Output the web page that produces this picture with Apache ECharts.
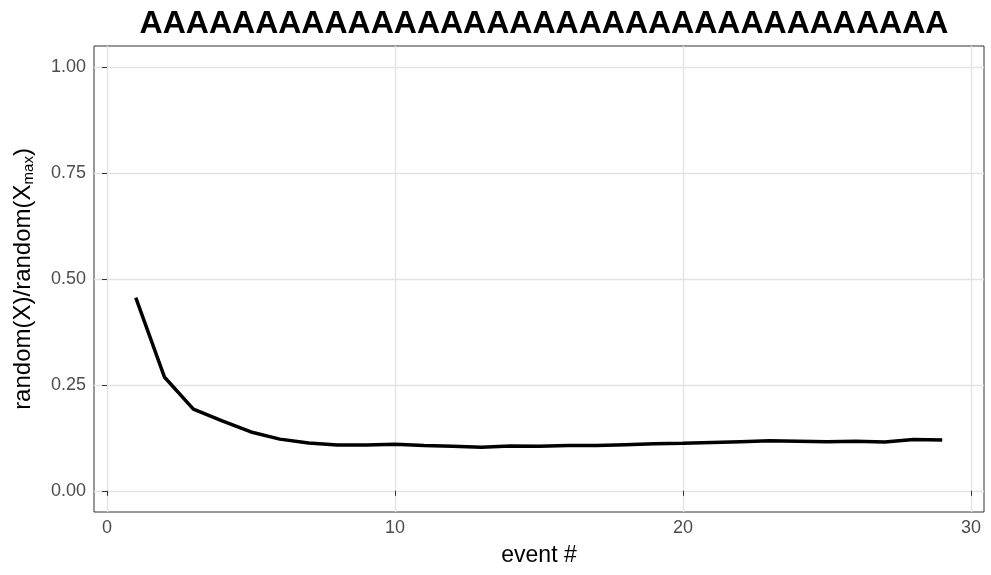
<!DOCTYPE html>
<html lang="en">
<head>
    <meta charset="UTF-8">
    <title>chart</title>
    <script src="https://cdn.jsdelivr.net/npm/echarts@6/dist/echarts.min.js"></script>
    <style>body{margin:0}</style>
</head>
<body>
<div id="main" style="width:991px;height:575px;"></div>
<script>
    var events = [1,2,3,4,5,6,7,8,9,10,11,12,13,14,15,16,17,18,19,20,21,22,23,24,25,26,27,28,29];
    var ratio = [0.456,0.268,0.193,0.165,0.139,0.122,0.113,0.108,0.108,0.110,0.107,0.105,0.103,0.106,0.105,
                 0.107,0.107,0.109,0.111,0.112,0.114,0.116,0.118,0.117,0.116,0.117,0.115,0.121,0.120];
    var xTicks = [0,10,20,30];
    var yTicks = [0,0.25,0.5,0.75,1];

    var myChart = echarts.init(document.getElementById('main'));
    var font = 'Liberation Sans, Arial, sans-serif';
    var option = {
        animation: false,
        title: {
            text: 'AAAAAAAAAAAAAAAAAAAAAAAAAAAAAAAAAAA',
            left: 539, top: 3, textAlign: 'center',
            textStyle: {fontSize: 32, fontWeight: 'bold', color: '#000', fontFamily: font}
        },
        grid: {left: 94, right: 7, top: 46, bottom: 63, show: true, borderColor: '#333', borderWidth: 1},
        xAxis: {
            type: 'value', min: -0.45, max: 30.45,
            name: 'event #', nameLocation: 'middle', nameGap: 32,
            nameTextStyle: {fontSize: 23, color: '#000', fontFamily: font},
            axisLine: {show: false},
            axisTick: {show: true, inside: false, customValues: xTicks, length: 5, lineStyle: {color: '#333'}},
            axisLabel: {customValues: xTicks, fontSize: 18, color: '#4d4d4d', fontFamily: font, margin: 7},
            splitLine: {show: true, lineStyle: {color: '#e3e3e3', width: 1.4}}
        },
        yAxis: {
            type: 'value', min: -0.05, max: 1.05,
            name: '{a|random(X)/random(X}{s|max}{a|)}', nameLocation: 'middle', nameGap: 58, nameRotate: 90,
            nameTextStyle: {rich: {
                a: {fontSize: 24, color: '#000', fontFamily: font},
                s: {fontSize: 15, color: '#000', fontFamily: font, verticalAlign: 'bottom', padding: [10, 0, 0, 0]}
            }},
            axisLine: {show: false},
            axisTick: {show: true, inside: false, customValues: yTicks, length: 5, lineStyle: {color: '#333'}},
            axisLabel: {customValues: yTicks, fontSize: 18, color: '#4d4d4d', fontFamily: font, margin: 8,
                formatter: function (v) { return v.toFixed(2); }},
            splitLine: {show: true, lineStyle: {color: '#e3e3e3', width: 1.4}}
        },
        series: [{
            type: 'line',
            data: events.map(function (e, i) { return [e, ratio[i]]; }),
            showSymbol: false,
            lineStyle: {color: '#000', width: 3.5}
        }]
    };
    myChart.setOption(option);
</script>
</body>
</html>
